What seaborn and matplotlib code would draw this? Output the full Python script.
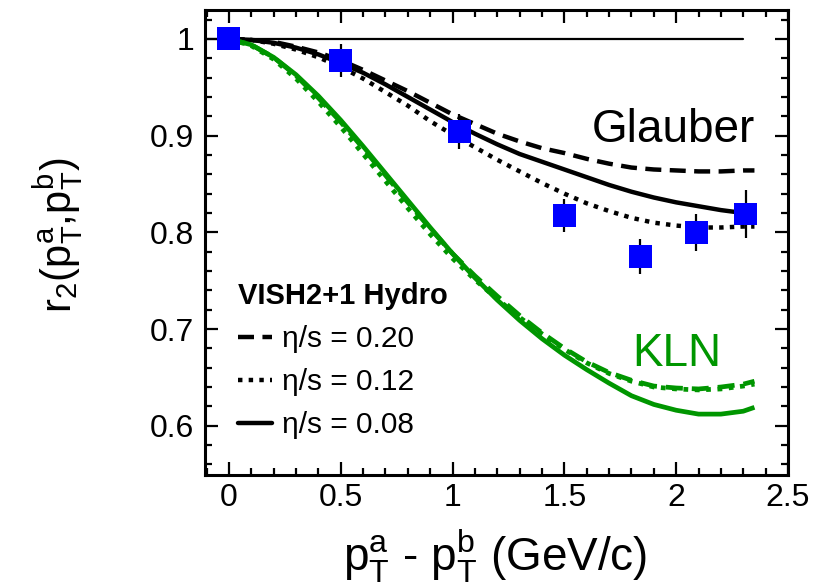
import numpy as np
import pandas as pd
import matplotlib
matplotlib.use("Agg")
import matplotlib.pyplot as plt
from matplotlib.lines import Line2D
from matplotlib.ticker import MultipleLocator
import seaborn as sns

# ---------------- data ----------------
x_curve = [0.0, 0.1, 0.2, 0.3, 0.4, 0.5, 0.6, 0.7, 0.8, 0.9, 1.0, 1.1, 1.2,
           1.3, 1.4, 1.5, 1.6, 1.7, 1.8, 1.9, 2.0, 2.1, 2.2, 2.3, 2.35]

glauber_020 = [1.000, 0.999, 0.997, 0.992, 0.986, 0.978, 0.968, 0.957, 0.946, 0.934,
               0.922, 0.912, 0.902, 0.894, 0.887, 0.882, 0.876, 0.871, 0.867, 0.865,
               0.864, 0.863, 0.863, 0.864, 0.864]
glauber_012 = [1.000, 0.999, 0.995, 0.989, 0.981, 0.971, 0.959, 0.945, 0.931, 0.915,
               0.901, 0.888, 0.875, 0.863, 0.851, 0.840, 0.830, 0.822, 0.815, 0.810,
               0.807, 0.805, 0.805, 0.806, 0.806]
glauber_008 = [1.000, 0.999, 0.996, 0.991, 0.984, 0.975, 0.965, 0.953, 0.940, 0.927,
               0.914, 0.902, 0.891, 0.881, 0.873, 0.865, 0.857, 0.849, 0.842, 0.836,
               0.831, 0.827, 0.823, 0.820, 0.818]

kln_020 = [1.000, 0.994, 0.981, 0.962, 0.939, 0.914, 0.887, 0.859, 0.831, 0.804,
           0.778, 0.755, 0.734, 0.714, 0.696, 0.680, 0.666, 0.655, 0.647, 0.641,
           0.639, 0.638, 0.640, 0.643, 0.646]
kln_012 = [1.000, 0.993, 0.979, 0.959, 0.935, 0.909, 0.881, 0.853, 0.825, 0.798,
           0.773, 0.751, 0.731, 0.712, 0.695, 0.679, 0.665, 0.654, 0.646, 0.640,
           0.638, 0.637, 0.638, 0.641, 0.643]
kln_008 = [1.000, 0.994, 0.981, 0.963, 0.941, 0.916, 0.889, 0.861, 0.833, 0.805,
           0.778, 0.753, 0.730, 0.709, 0.690, 0.673, 0.658, 0.644, 0.631, 0.622,
           0.616, 0.612, 0.612, 0.615, 0.619]

data_x = [0.0, 0.5, 1.03, 1.50, 1.84, 2.09, 2.31]
data_y = [1.0, 0.978, 0.904, 0.817, 0.775, 0.800, 0.819]
data_err = [0.0, 0.017, 0.018, 0.017, 0.018, 0.019, 0.025]

ref_x = [-0.11, 2.30]
ref_y = [1.0, 1.0]

legend_title = "VISH2+1 Hydro"
legend_labels = ["\u03b7/s = 0.20", "\u03b7/s = 0.12", "\u03b7/s = 0.08"]

# ---------------- style ----------------
sns.set_theme(style="ticks")
plt.rcParams["font.family"] = ["Liberation Sans", "DejaVu Sans"]
plt.rcParams["mathtext.fontset"] = "custom"
plt.rcParams["mathtext.rm"] = "Liberation Sans"
plt.rcParams["mathtext.it"] = "Liberation Sans"
plt.rcParams["mathtext.bf"] = "Liberation Sans:bold"
for k in ["text.color", "xtick.color", "ytick.color", "axes.labelcolor", "axes.edgecolor"]:
    plt.rcParams[k] = "black"

green = "#009600"
dash_style = (0, (3.6, 1.9))
dot_style = (0, (1.0, 1.4))

fig = plt.figure(figsize=(8.21, 5.85), dpi=100)
ax = fig.add_axes([0.2497, 0.188, 0.9598 - 0.2497, 0.983 - 0.188])

ax.plot(ref_x, ref_y, color="black", lw=1.6, zorder=1)

curves = [
    (glauber_020, "black", dash_style, 3.2),
    (glauber_012, "black", dot_style, 3.2),
    (glauber_008, "black", "-", 3.2),
    (kln_020, green, dash_style, 3.4),
    (kln_012, green, dot_style, 3.4),
    (kln_008, green, "-", 3.4),
]
for ys, col, ls, lw in curves:
    df = pd.DataFrame({"x": x_curve, "y": ys})
    sns.lineplot(data=df, x="x", y="y", color=col, lw=lw, linestyle=ls,
                 sort=False, errorbar=None, ax=ax, zorder=2,
                 solid_capstyle="butt", dash_capstyle="butt", solid_joinstyle="round")

ax.errorbar(data_x, data_y, yerr=data_err, fmt="none", ecolor="black",
            elinewidth=1.6, capsize=0, zorder=3)
ddf = pd.DataFrame({"x": data_x, "y": data_y})
sns.scatterplot(data=ddf, x="x", y="y", marker="s", s=16.5 ** 2, color="#0000ff",
                edgecolor="none", linewidth=0, ax=ax, zorder=4)

ax.text(2.353, 0.8935, "Glauber", fontsize=33, ha="right", va="baseline", color="black")
ax.text(1.804, 0.662, "KLN", fontsize=33, ha="left", va="baseline", color=green)

handles = [
    Line2D([], [], color="black", lw=3.2, linestyle=dash_style, dash_capstyle="butt"),
    Line2D([], [], color="black", lw=3.2, linestyle=dot_style, dash_capstyle="butt"),
    Line2D([], [], color="black", lw=3.2, linestyle="-"),
]
leg = ax.legend(handles, legend_labels, title=legend_title, loc="lower left",
                bbox_to_anchor=(0.02, 0.032), frameon=False, fontsize=21.5,
                title_fontproperties={"weight": "bold", "size": 21},
                handlelength=1.15, handletextpad=0.33, labelspacing=0.5,
                borderpad=0.2, alignment="left")

ax.set_xlim(-0.107, 2.5)
ax.set_ylim(0.549, 1.030)
ax.xaxis.set_minor_locator(MultipleLocator(0.1))
ax.yaxis.set_minor_locator(MultipleLocator(0.02))
ax.set_xticks([0, 0.5, 1, 1.5, 2, 2.5])
ax.set_xticklabels(["0", "0.5", "1", "1.5", "2", "2.5"])
ax.set_yticks([0.6, 0.7, 0.8, 0.9, 1.0])
ax.set_yticklabels(["0.6", "0.7", "0.8", "0.9", "1"])

ax.tick_params(which="both", direction="in", top=True, right=True, labelsize=23,
               color="black", labelcolor="black")
ax.tick_params(which="major", length=9.5, width=1.6)
ax.tick_params(axis="x", which="major", pad=6)
ax.tick_params(axis="y", which="major", pad=8)
ax.tick_params(which="minor", length=5, width=1.6)
for sp in ax.spines.values():
    sp.set_linewidth(2.2)
    sp.set_color("black")
    sp.set_visible(True)

ax.set_xlabel(r"p$_{\mathrm{T}}^{\mathrm{a}}$ - p$_{\mathrm{T}}^{\mathrm{b}}$ (GeV/c)", fontsize=33)
ax.set_ylabel(r"r$_2$(p$_{\mathrm{T}}^{\mathrm{a}}$,p$_{\mathrm{T}}^{\mathrm{b}}$)", fontsize=30)
ax.xaxis.set_label_coords(0.498, -0.113)
ax.yaxis.set_label_coords(-0.205, 0.516)

fig.savefig("out.png", dpi=100)
